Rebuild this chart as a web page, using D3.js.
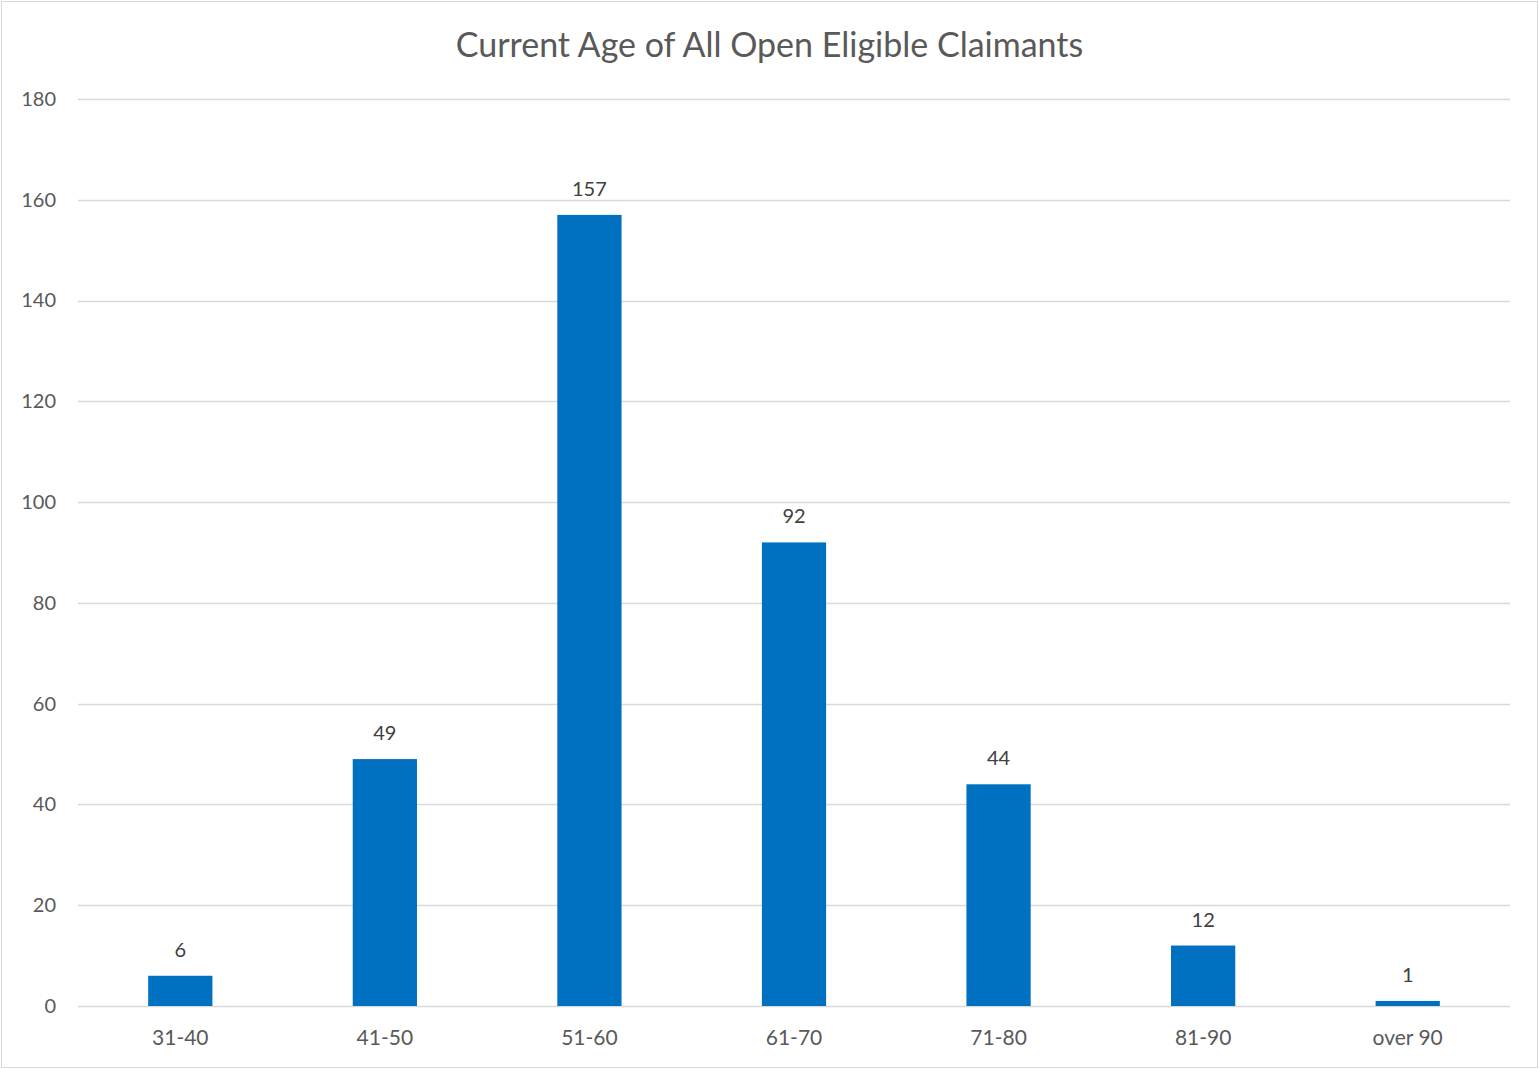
<!DOCTYPE html>
<html>
<head>
<meta charset="utf-8">
<script src="https://cdn.jsdelivr.net/npm/d3@7"></script>
<style>
  body { margin: 0; background: #fff; }
  text { font-family: "Lato", "Open Sans", sans-serif; }
</style>
</head>
<body>
<div id="chart"></div>
<script>
var categories = ["31-40", "41-50", "51-60", "61-70", "71-80", "81-90", "over 90"];
var counts = [6, 49, 157, 92, 44, 12, 1];
var yTicks = [0, 20, 40, 60, 80, 100, 120, 140, 160, 180];

var W = 1539, H = 1069;
var margins = { top: 99, right: 29, bottom: 63, left: 78 },
  width = W - margins.left - margins.right,
  height = H - margins.top - margins.bottom;

var root = d3.select("#chart").append("svg")
  .attr("width", W).attr("height", H);

// chart frame
root.append("rect")
  .attr("x", 1.5).attr("y", 1.5)
  .attr("width", W - 3).attr("height", H - 3)
  .attr("fill", "#fff").attr("stroke", "#d9d9d9").attr("stroke-width", 1);

root.append("text")
  .attr("x", W / 2).attr("y", 57)
  .attr("text-anchor", "middle")
  .attr("fill", "#595959")
  .style("font-size", "34px")
  .text("Current Age of All Open Eligible Claimants");

var svg = root.append("g")
  .attr("transform", "translate(" + margins.left + "," + margins.top + ")");

var x = d3.scaleBand().domain(categories).range([0, width]).paddingInner(0.686).paddingOuter(0.343);
var y = d3.scaleLinear().domain([0, 180]).range([height, 0]);

// gridlines
svg.append("g")
  .selectAll("line")
  .data(yTicks)
  .enter().append("line")
  .attr("x1", 0).attr("x2", width)
  .attr("y1", function (d) { return Math.round(y(d)) + 0.5; })
  .attr("y2", function (d) { return Math.round(y(d)) + 0.5; })
  .attr("stroke", "#d9d9d9").attr("stroke-width", 1.5);

// y axis labels
var yAxis = svg.append("g")
  .call(d3.axisLeft(y).tickValues(yTicks).tickSize(0).tickPadding(22));
yAxis.select(".domain").remove();
yAxis.selectAll("text").attr("fill", "#595959").style("font-size", "20px").style("font-family", "Lato, 'Open Sans', sans-serif");

// bars
svg.append("g")
  .selectAll("rect")
  .data(counts)
  .enter().append("rect")
  .attr("x", function (d, i) { return x(categories[i]); })
  .attr("width", x.bandwidth())
  .attr("y", function (d) { return y(d); })
  .attr("height", function (d) { return height - y(d); })
  .attr("fill", "#0070c0");

// data labels
svg.append("g")
  .selectAll("text")
  .data(counts)
  .enter().append("text")
  .attr("x", function (d, i) { return x(categories[i]) + x.bandwidth() / 2; })
  .attr("y", function (d) { return y(d) - 19; })
  .attr("text-anchor", "middle")
  .attr("fill", "#404040")
  .style("font-size", "20px")
  .text(function (d) { return d; });

// x axis labels
var xAxis = svg.append("g")
  .attr("transform", "translate(0," + height + ")")
  .call(d3.axisBottom(x).tickSize(0).tickPadding(24));
xAxis.select(".domain").remove();
xAxis.selectAll("text").attr("fill", "#595959").style("font-size", "21px").style("font-family", "Lato, 'Open Sans', sans-serif");
</script>
</body>
</html>
